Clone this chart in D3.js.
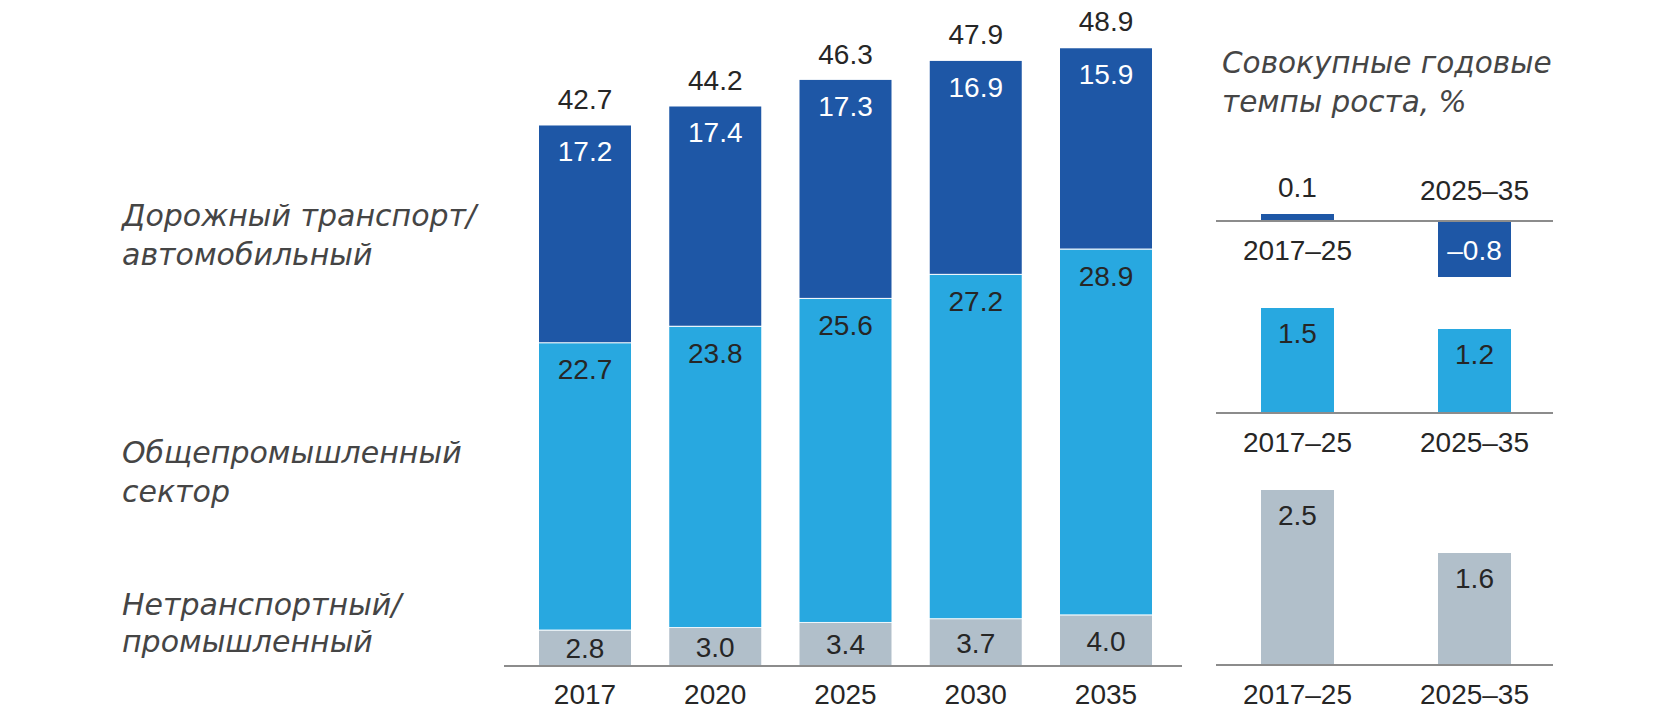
<!DOCTYPE html>
<html><head><meta charset="utf-8">
<script src="https://cdn.jsdelivr.net/npm/d3@7"></script>
<style>
html,body{margin:0;padding:0;background:#fff;}
svg{display:block;}
text{font-family:"Liberation Sans",Arial,Helvetica,sans-serif;}
text.lbl{font-family:"DejaVu Sans","Liberation Sans",sans-serif;font-style:oblique;}
</style></head>
<body>
<svg id="chart" width="1680" height="710"></svg>
<script>
// ---- data ----
const years = ["2017","2020","2025","2030","2035"];
const roadValues = [17.2, 17.4, 17.3, 16.9, 15.9];
const industrialValues = [22.7, 23.8, 25.6, 27.2, 28.9];
const nonTransportValues = [2.8, 3.0, 3.4, 3.7, 4.0];
const totals = [42.7, 44.2, 46.3, 47.9, 48.9];
const seriesNames = [
  ["Нетранспортный/", "промышленный"],
  ["Общепромышленный", "сектор"],
  ["Дорожный транспорт/", "автомобильный"]
];
const periods = ["2017–25", "2025–35"];
const cagrRoad = [0.1, -0.8];
const cagrIndustrial = [1.5, 1.2];
const cagrNonTransport = [2.5, 1.6];
const panelTitle = ["Совокупные годовые", "темпы роста, %"];

const colors = { road: "#1e57a6", industrial: "#28a8e0", non: "#b1bfca" };
const textDark = "#262626";
const labelGrey = "#454545";
const axisGrey = "#8c8c8c";
const numSize = 28;
const lblSize = 30;
const titleSize = 29.5;

const svg = d3.select("#chart");
const fmt = v => (v < 0 ? "–" : "") + Math.abs(v).toFixed(1);

// ---- main stacked chart ----
const x = d3.scaleBand().domain(years).range([539, 1152]).paddingInner(0.2937).paddingOuter(0);
const y = d3.scaleLinear().domain([0, 48.9]).range([666, 47]);

const rows = years.map((yr, i) => ({ year: yr, non: nonTransportValues[i], industrial: industrialValues[i], road: roadValues[i], total: totals[i] }));
const stack = d3.stack().keys(["non", "industrial", "road"]);
const stacked = stack(rows);

const gap = 1;
const g = svg.append("g");
stacked.forEach(layer => {
  const key = layer.key;
  g.selectAll(null).data(layer).enter().append("rect")
    .attr("x", d => x(d.data.year))
    .attr("width", x.bandwidth())
    .attr("y", d => y(d[1]))
    .attr("height", d => Math.max(0, y(d[0]) - y(d[1]) - (key === "non" ? 0 : gap)))
    .attr("fill", colors[key]);
  if (key !== "road") {
    g.selectAll(null).data(layer).enter().append("rect")
      .attr("x", d => x(d.data.year))
      .attr("width", x.bandwidth())
      .attr("y", d => y(d[1]) - gap)
      .attr("height", gap)
      .attr("fill", "#eef6fb");
  }
  g.selectAll(null).data(layer).enter().append("text")
    .attr("x", d => x(d.data.year) + x.bandwidth() / 2)
    .attr("y", d => key === "non" ? (y(d[0]) + y(d[1])) / 2 + 10 : y(d[1]) + 36)
    .attr("text-anchor", "middle")
    .attr("font-size", numSize)
    .attr("fill", key === "road" ? "#ffffff" : textDark)
    .text(d => fmt(d.data[key]));
});

// totals
g.selectAll(null).data(rows).enter().append("text")
  .attr("x", d => x(d.year) + x.bandwidth() / 2)
  .attr("y", d => y(d.total) - 16)
  .attr("text-anchor", "middle")
  .attr("font-size", numSize)
  .attr("fill", textDark)
  .text(d => fmt(d.total));

// baseline
g.append("line").attr("x1", 504).attr("x2", 1182).attr("y1", y(0)).attr("y2", y(0))
  .attr("stroke", axisGrey).attr("stroke-width", 2);

// x axis labels
const xAxis = d3.axisBottom(x).tickSize(0).tickPadding(0);
const ax = svg.append("g").attr("transform", `translate(0,${y(0)})`).call(xAxis);
ax.select(".domain").remove();
ax.selectAll("text").attr("font-size", numSize).attr("fill", textDark)
  .attr("font-family", "Liberation Sans, Arial, sans-serif")
  .attr("dy", null).attr("y", 38);

// series labels (left)
const labelY = [[615, 652], [463, 502], [226, 265]];
seriesNames.forEach((lines, si) => {
  lines.forEach((ln, li) => {
    svg.append("text").attr("class", "lbl").attr("x", 122).attr("y", labelY[si][li])
      .attr("font-size", lblSize).attr("fill", labelGrey).text(ln);
  });
});

// ---- right panel: CAGR ----
const px = d3.scaleBand().domain(periods).range([1261, 1511]).paddingInner(0.5876).paddingOuter(0);
panelTitle.forEach((t, i) => {
  svg.append("text").attr("class", "lbl").attr("x", 1222).attr("y", 73 + i * 39)
    .attr("font-size", titleSize).attr("fill", labelGrey).text(t);
});

const panelRows = [
  { vals: cagrRoad, axisY: 221, color: colors.road, valColor: "#ffffff" },
  { vals: cagrIndustrial, axisY: 413, color: colors.industrial, valColor: textDark },
  { vals: cagrNonTransport, axisY: 665, color: colors.non, valColor: textDark }
];
panelRows.forEach(r => {
  const py = d3.scaleLinear().domain([0, 1]).range([r.axisY, r.axisY - 70]);
  const data = periods.map((p, i) => ({ p, v: r.vals[i] }));
  const pg = svg.append("g");
  pg.selectAll(null).data(data).enter().append("rect")
    .attr("x", d => px(d.p)).attr("width", px.bandwidth())
    .attr("y", d => Math.min(py(d.v), py(0)))
    .attr("height", d => Math.abs(py(d.v) - py(0)))
    .attr("fill", r.color);
  pg.append("line").attr("x1", 1216).attr("x2", 1553).attr("y1", py(0)).attr("y2", py(0))
    .attr("stroke", axisGrey).attr("stroke-width", 2);
  pg.selectAll(null).data(data).enter().append("text")
    .attr("x", d => px(d.p) + px.bandwidth() / 2)
    .attr("y", d => {
      const h = Math.abs(py(d.v) - py(0));
      if (h < 40) return py(d.v) - 17;
      if (d.v < 0) return py(0) + 39;
      return py(d.v) + 35;
    })
    .attr("text-anchor", "middle").attr("font-size", numSize)
    .attr("fill", d => Math.abs(py(d.v) - py(0)) < 40 ? textDark : r.valColor)
    .text(d => fmt(d.v));
  pg.selectAll(null).data(data).enter().append("text")
    .attr("x", d => px(d.p) + px.bandwidth() / 2)
    .attr("y", d => {
      if (r.vals.some(v => v < 0)) return d.v < 0 ? py(0) - 21 : py(0) + 39;
      return py(0) + 39;
    })
    .attr("text-anchor", "middle").attr("font-size", numSize).attr("fill", textDark)
    .text(d => d.p);
});
</script>
</body></html>
